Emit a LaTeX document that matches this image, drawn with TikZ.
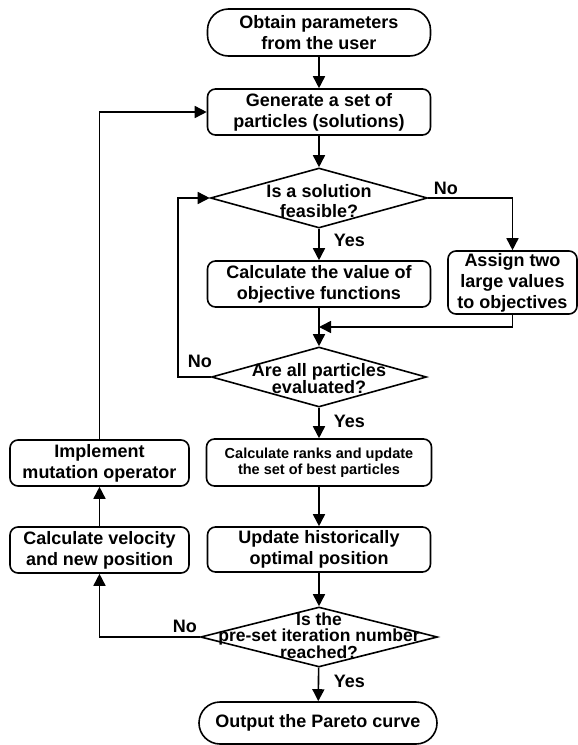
\documentclass[tikz,border=0pt]{standalone}
\usepackage{fontspec}
\setmainfont{Liberation Sans}
\usetikzlibrary{shapes.geometric,arrows.meta}
\begin{document}
\begin{tikzpicture}[x=1pt,y=-1pt,
  line width=1.6pt,
  >={Triangle[length=12pt,width=12pt]},
  box/.style={draw, line width=1.6pt, rounded corners=8pt, align=center, inner sep=0pt,
    font=\fontsize{18}{21}\selectfont\bfseries},
  term/.style={box, rounded corners=21pt},
  smallbox/.style={box, font=\fontsize{14.5}{16}\selectfont\bfseries},
  dia/.style={draw, diamond, line width=1.6pt, inner sep=0pt},
  dtext/.style={align=center, inner sep=0pt, font=\fontsize{18}{16}\selectfont\bfseries},
  lab/.style={font=\fontsize{18}{20}\selectfont\bfseries, inner sep=0pt, anchor=base west}]
\useasboundingbox (0,0) rectangle (578,745);
% nodes
\node[term, minimum width=223pt, minimum height=47pt] (start) at (319,32.5) {Obtain parameters\\from the user};
\node[box, minimum width=223pt, minimum height=46pt] (gen) at (319,112) {Generate a set of\\particles (solutions)};
\node[dia, minimum width=217pt, minimum height=60pt] (d1) at (319,198) {};
\node[dtext, font=\fontsize{18}{20}\selectfont\bfseries] (d1t) at (319,201) {Is a solution\\feasible?};
\node[box, minimum width=223pt, minimum height=46pt] (cv) at (319,284) {Calculate the value of\\objective functions};
\node[box, minimum width=129pt, minimum height=63pt] (as) at (512.5,282.5) {Assign two\\large values\\to objectives};
\node[dia, minimum width=215pt, minimum height=60pt] (d2) at (319,377) {};
\node[dtext, font=\fontsize{18}{17}\selectfont\bfseries] (d2t) at (319,378.5) {Are all particles\\evaluated?};
\node[smallbox, minimum width=225pt, minimum height=47pt] (cr) at (319,462.5) {Calculate ranks and update\\the set of best particles};
\node[box, minimum width=179pt, minimum height=46pt] (imp) at (99.5,463) {Implement\\mutation operator};
\node[box, minimum width=179pt, minimum height=46pt] (vel) at (99.5,550) {Calculate velocity\\and new position};
\node[box, minimum width=223pt, minimum height=45pt] (up) at (319,549.5) {Update historically\\optimal position};
\node[dia, minimum width=237pt, minimum height=60pt] (d3) at (319,637) {};
\node[dtext, font=\fontsize{17.5}{16.5}\selectfont\bfseries] (d3t) at (319,635.5) {Is the\\pre-set iteration number\\reached?};
\node[term, minimum width=238pt, minimum height=42pt] (out) at (318,723) {Output the Pareto curve};
% helper coordinates
\coordinate (m) at (319,327);
\coordinate (l1) at (178,377);
% labels
\node[lab] (y1) at (333,246) {Yes};
\node[lab] (n1) at (433,194) {No};
\node[lab] (n2) at (187,367) {No};
\node[lab] (y2) at (333,427) {Yes};
\node[lab] (n3) at (172,632) {No};
\node[lab] (y3) at (333,687) {Yes};
% connectors
\draw[->] (start) -- (gen);
\draw[->] (gen) -- (d1);
\draw[->] (d1) -- (cv);
\draw[->] (d1.east) -| (as.north);
\draw[->] (cv) -- (d2);
\draw[->] (as.south) |- (m);
\draw[->] (d2.west) -- (l1) |- (d1.west);
\draw[->] (d2) -- (cr);
\draw[->] (cr) -- (up);
\draw[->] (up) -- (d3);
\draw[->] (d3) -- (out);
\draw[->] (d3.west) -| (vel.south);
\draw[->] (vel) -- (imp);
\draw[->] (imp.north) |- (gen.west);
\end{tikzpicture}
\end{document}
